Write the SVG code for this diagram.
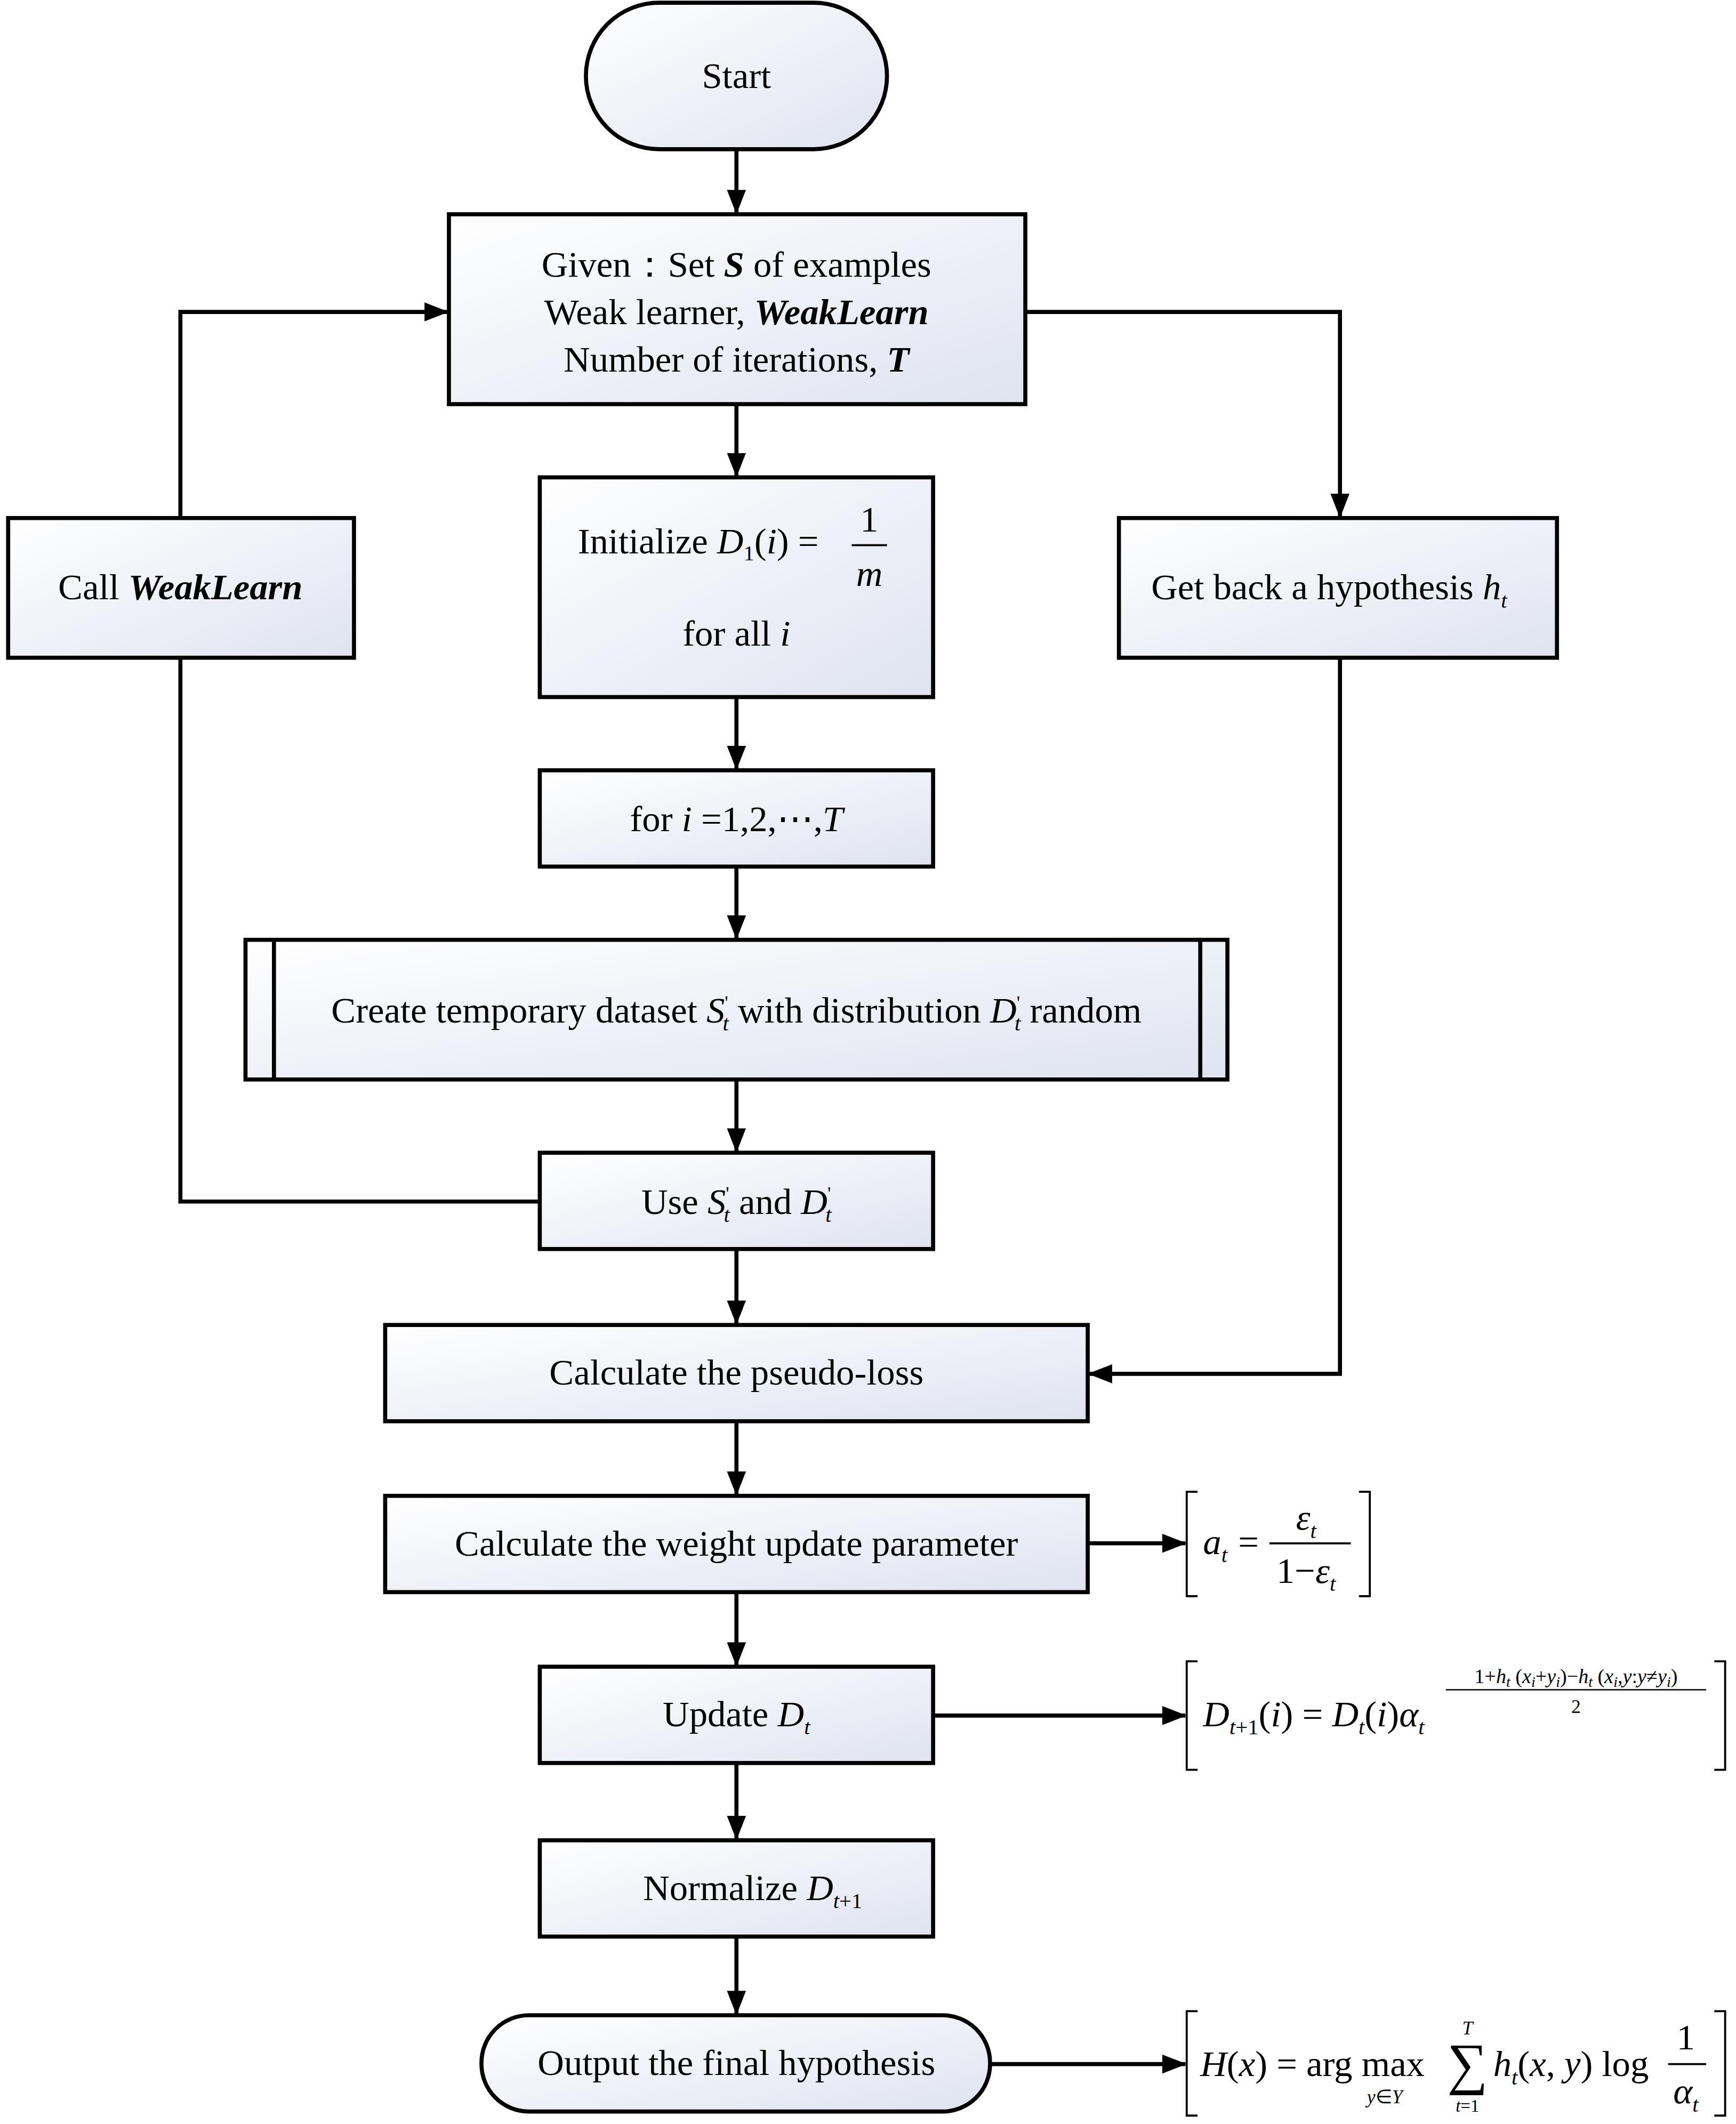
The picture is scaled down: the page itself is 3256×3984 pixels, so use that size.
<svg xmlns="http://www.w3.org/2000/svg" width="3256" height="3984" viewBox="0 0 3256 3984">
<defs>
<linearGradient id="g" x1="0" y1="0" x2="1" y2="1"><stop offset="0" stop-color="#ffffff"/><stop offset="1" stop-color="#dfe3f0"/></linearGradient>
<marker id="a" markerWidth="18" markerHeight="14" refX="17" refY="7" orient="auto" markerUnits="userSpaceOnUse" viewBox="0 0 18 14"><path d="M0,0 L18,7 L0,14 z" fill="#000"/></marker>
<style>
.n{fill:url(#g);stroke:#000;stroke-width:3}
.t{font-family:"Liberation Serif",serif;font-size:27px;fill:#000;text-anchor:middle}
.m{font-family:"Liberation Serif",serif;font-size:27px;fill:#000}
.c{fill:none;stroke:#000;stroke-width:3;marker-end:url(#a)}
.b{fill:none;stroke:#000;stroke-width:1.5}
</style>
</defs>
<rect width="3256" height="3984" fill="#fff"/>
<g transform="scale(2.54375)">
<g id="start"><rect class="n" x="432" y="2" width="222" height="108" rx="54"/><text class="t" x="543" y="65">Start</text></g>
<g id="given"><rect class="n" x="331" y="158" width="425" height="140"/>
<text class="t" x="543" y="204">Given：Set <tspan font-weight="bold" font-style="italic">S</tspan> of examples</text>
<text class="t" x="543" y="239">Weak learner, <tspan font-weight="bold" font-style="italic">WeakLearn</tspan></text>
<text class="t" x="543" y="274">Number of iterations, <tspan font-weight="bold" font-style="italic">T</tspan></text></g>
<g id="call"><rect class="n" x="6" y="382" width="255" height="103"/><text class="t" x="133" y="442">Call <tspan font-weight="bold" font-style="italic">WeakLearn</tspan></text></g>
<g id="init"><rect class="n" x="398" y="352" width="290" height="162"/>
<text class="m" x="426" y="408">Initialize  <tspan font-style="italic">D</tspan><tspan font-size="16" dy="5">1</tspan><tspan dy="-5">(</tspan><tspan font-style="italic">i</tspan>) =</text>
<text class="t" x="641" y="392">1</text><line x1="628" y1="402" x2="654" y2="402" stroke="#000" stroke-width="1.5"/><text class="t" x="641" y="432" font-style="italic">m</text>
<text class="t" x="543" y="476">for all <tspan font-style="italic">i</tspan></text></g>
<g id="getback"><rect class="n" x="825" y="382" width="323" height="103"/><text class="t" x="980" y="442">Get back a hypothesis <tspan font-style="italic">h</tspan><tspan font-size="16" font-style="italic" dy="6">t</tspan></text></g>
<g id="for"><rect class="n" x="398" y="568" width="290" height="71"/><text class="t" x="543" y="613">for <tspan font-style="italic">i</tspan> =1,2,⋯,<tspan font-style="italic">T</tspan></text></g>
<g id="create"><rect class="n" x="181" y="693" width="724" height="103"/><line x1="202" y1="693" x2="202" y2="796" stroke="#000" stroke-width="3"/><line x1="885" y1="693" x2="885" y2="796" stroke="#000" stroke-width="3"/>
<text class="t" x="543" y="754">Create temporary dataset  <tspan font-style="italic">S</tspan><tspan font-size="14" dy="-10">'</tspan><tspan font-size="16" font-style="italic" dx="-4" dy="16">t</tspan><tspan dy="-6"> with distribution  </tspan><tspan font-style="italic">D</tspan><tspan font-size="14" dy="-10">'</tspan><tspan font-size="16" font-style="italic" dx="-4" dy="16">t</tspan><tspan dy="-6"> random</tspan></text></g>
<g id="use"><rect class="n" x="398" y="850" width="290" height="71"/>
<text class="t" x="543" y="895">Use  <tspan font-style="italic">S</tspan><tspan font-size="14" dy="-10">'</tspan><tspan font-size="16" font-style="italic" dx="-4" dy="16">t</tspan><tspan dy="-6">  and  </tspan><tspan font-style="italic">D</tspan><tspan font-size="14" dy="-10">'</tspan><tspan font-size="16" font-style="italic" dx="-4" dy="16">t</tspan></text></g>
<g id="pseudo"><rect class="n" x="284" y="977" width="518" height="71"/><text class="t" x="543" y="1021">Calculate the pseudo-loss</text></g>
<g id="weight"><rect class="n" x="284" y="1103" width="518" height="71"/><text class="t" x="543" y="1147">Calculate the weight update parameter</text></g>
<g id="update"><rect class="n" x="398" y="1229" width="290" height="71"/><text class="t" x="543" y="1273">Update  <tspan font-style="italic">D</tspan><tspan font-size="16" font-style="italic" dy="6">t</tspan></text></g>
<g id="normalize"><rect class="n" x="398" y="1357" width="290" height="71"/><text class="t" x="555" y="1401">Normalize  <tspan font-style="italic">D</tspan><tspan font-size="16" dy="6"><tspan font-style="italic">t</tspan>+1</tspan></text></g>
<g id="output"><rect class="n" x="355" y="1486" width="375" height="71" rx="35"/><text class="t" x="543" y="1530">Output the final hypothesis</text></g>
<g id="f1"><path class="b" d="M883,1100 H875 V1177 H883 M1002,1100 H1010 V1177 H1002"/>
<text class="m" x="887" y="1146" font-style="italic">a<tspan font-size="16" dy="6">t</tspan><tspan font-style="normal" dy="-6" dx="8">=</tspan></text>
<text class="t" x="963" y="1128" font-style="italic">ε<tspan font-size="16" dy="6">t</tspan></text>
<line x1="936" y1="1138" x2="996" y2="1138" stroke="#000" stroke-width="1.5"/>
<text class="t" x="963" y="1167">1−<tspan font-style="italic">ε</tspan><tspan font-size="16" font-style="italic" dy="6">t</tspan></text></g>
<g id="f2"><path class="b" d="M883,1225 H875 V1305 H883 M1264,1225 H1272 V1305 H1264"/>
<text class="m" x="887" y="1273"><tspan font-style="italic">D</tspan><tspan font-size="16" dy="6"><tspan font-style="italic">t</tspan>+1</tspan><tspan dy="-6">(</tspan><tspan font-style="italic">i</tspan>) = <tspan font-style="italic">D</tspan><tspan font-size="16" font-style="italic" dy="6">t</tspan><tspan dy="-6">(</tspan><tspan font-style="italic">i</tspan>)<tspan font-style="italic">α</tspan><tspan font-size="16" font-style="italic" dy="6">t</tspan></text>
<text x="1162" y="1241" font-family="Liberation Serif,serif" font-size="15" text-anchor="middle">1+<tspan font-style="italic">h</tspan><tspan font-size="11" font-style="italic" dy="3">t</tspan><tspan dy="-3"> (</tspan><tspan font-style="italic">x</tspan><tspan font-size="11" font-style="italic" dy="3">i</tspan><tspan dy="-3">+</tspan><tspan font-style="italic">y</tspan><tspan font-size="11" font-style="italic" dy="3">i</tspan><tspan dy="-3">)−</tspan><tspan font-style="italic">h</tspan><tspan font-size="11" font-style="italic" dy="3">t</tspan><tspan dy="-3"> (</tspan><tspan font-style="italic">x</tspan><tspan font-size="11" font-style="italic" dy="3">i</tspan><tspan dy="-3">,</tspan><tspan font-style="italic">y</tspan>:<tspan font-style="italic">y</tspan>≠<tspan font-style="italic">y</tspan><tspan font-size="11" font-style="italic" dy="3">i</tspan><tspan dy="-3">)</tspan></text>
<line x1="1066" y1="1246" x2="1258" y2="1246" stroke="#000" stroke-width="1"/>
<text x="1162" y="1263" font-family="Liberation Serif,serif" font-size="14" text-anchor="middle">2</text></g>
<g id="f3"><path class="b" d="M883,1483 H875 V1560 H883 M1264,1483 H1272 V1560 H1264"/>
<text class="m" x="885" y="1531"><tspan font-style="italic">H</tspan>(<tspan font-style="italic">x</tspan>) = arg max</text>
<text x="1021" y="1551" font-family="Liberation Serif,serif" font-size="14" text-anchor="middle"><tspan font-style="italic">y</tspan>∈<tspan font-style="italic">Y</tspan></text>
<text x="1082" y="1536" font-family="Liberation Serif,serif" font-size="42" text-anchor="middle">∑</text>
<text x="1082" y="1500" font-family="Liberation Serif,serif" font-size="14" font-style="italic" text-anchor="middle">T</text>
<text x="1082" y="1557" font-family="Liberation Serif,serif" font-size="13" text-anchor="middle"><tspan font-style="italic">t</tspan>=1</text>
<text class="m" x="1101" y="1531"><tspan font-style="italic">h</tspan><tspan font-size="16" font-style="italic" dy="6">t</tspan><tspan dy="-6">(</tspan><tspan font-style="italic">x</tspan>, <tspan font-style="italic">y</tspan>) log</text>
<text class="t" x="1243" y="1511">1</text><line x1="1230" y1="1522" x2="1258" y2="1522" stroke="#000" stroke-width="1.5"/>
<text class="t" x="1243" y="1551" font-style="italic">α<tspan font-size="16" dy="6">t</tspan></text></g>
<g id="connectors">
<path class="c" d="M543,110 V157"/><path class="c" d="M543,298 V351"/><path class="c" d="M543,514 V567"/>
<path class="c" d="M543,639 V692"/><path class="c" d="M543,796 V849"/><path class="c" d="M543,921 V976"/>
<path class="c" d="M543,1048 V1102"/><path class="c" d="M543,1174 V1228"/><path class="c" d="M543,1300 V1356"/>
<path class="c" d="M543,1428 V1485"/>
<path fill="none" stroke="#000" stroke-width="3" d="M398,886 H133 V485"/>
<path class="c" d="M133,382 V230 H330"/>
<path class="c" d="M756,230 H988 V381"/>
<path class="c" d="M988,485 V1013 H803"/>
<path class="c" d="M802,1138 H874"/><path class="c" d="M688,1265 H874"/><path class="c" d="M730,1522 H874"/>
</g>
</g>
</svg>
